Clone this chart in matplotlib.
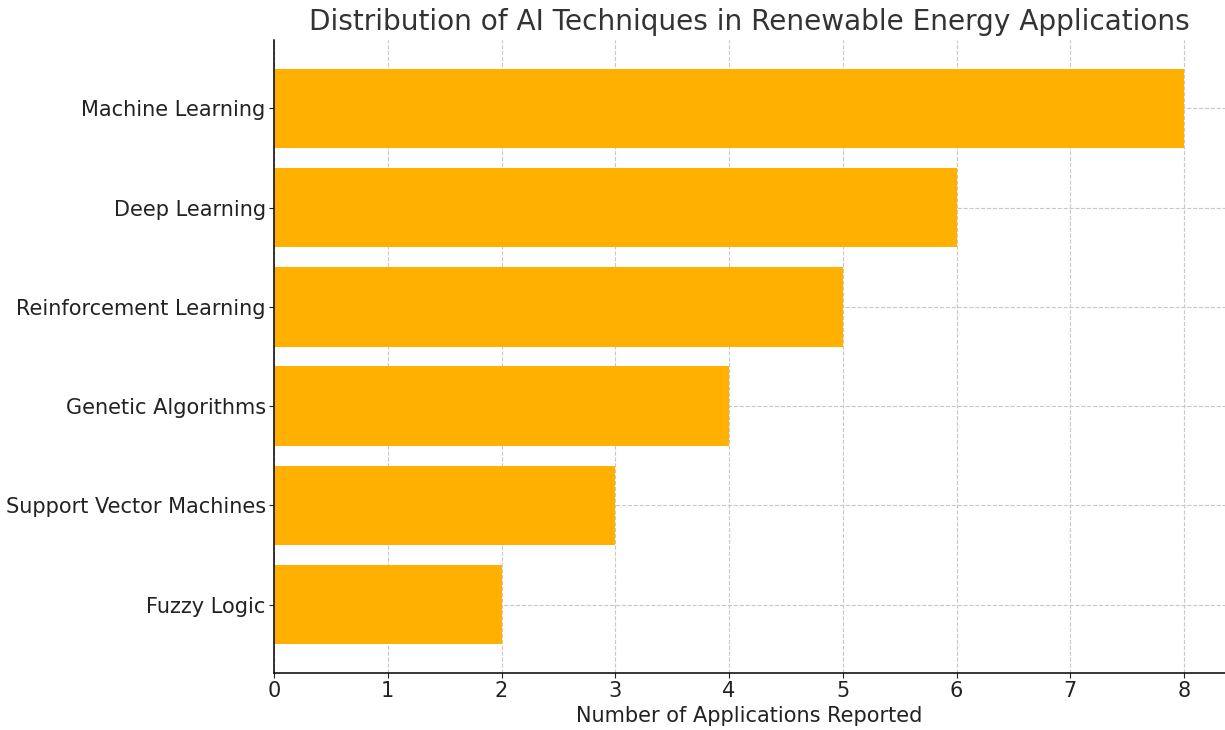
import matplotlib.pyplot as plt

techniques = ["Machine Learning", "Deep Learning", "Reinforcement Learning",
              "Genetic Algorithms", "Support Vector Machines", "Fuzzy Logic"]
counts = [8, 6, 5, 4, 3, 2]

fig = plt.figure(figsize=(12.25, 7.3), dpi=100)
ax = fig.add_axes([274 / 1225, 57 / 730, 951 / 1225, 633 / 730])

ax.barh(techniques[::-1], counts[::-1], color="#FFB000", height=0.8, zorder=2)
ax.set_xlim(0, 8.36)

ax.set_title("Distribution of AI Techniques in Renewable Energy Applications",
             fontsize=20.2, color="#333333", pad=7)
ax.set_xlabel("Number of Applications Reported", fontsize=15, color="#222222", labelpad=3)
ax.tick_params(labelsize=15, colors="#222222", pad=2.5)
ax.grid(True, linestyle="--", color="#c8c8c8", linewidth=0.8, zorder=0)
ax.spines["top"].set_visible(False)
ax.spines["right"].set_visible(False)
for s in ("left", "bottom"):
    ax.spines[s].set_linewidth(1.1)

fig.savefig("out.png", dpi=100)
